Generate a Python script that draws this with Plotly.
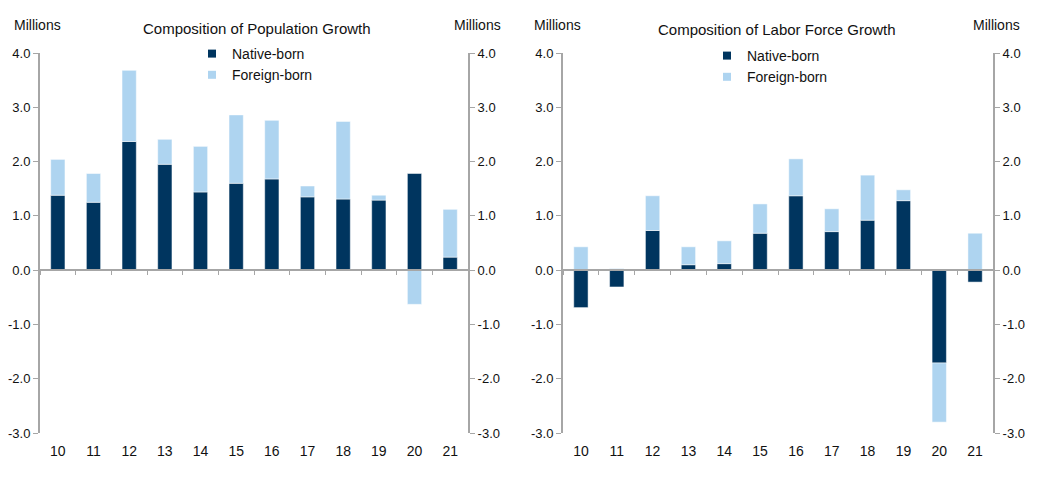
import plotly.graph_objects as go

# Data (millions)
years = ['10', '11', '12', '13', '14', '15', '16', '17', '18', '19', '20', '21']

pop_native = [1.38, 1.25, 2.37, 1.95, 1.44, 1.60, 1.68, 1.35, 1.31, 1.29, 1.78, 0.24]
pop_foreign = [0.66, 0.53, 1.31, 0.46, 0.84, 1.26, 1.08, 0.20, 1.43, 0.09, -0.63, 0.88]

lab_native = [-0.69, -0.31, 0.73, 0.10, 0.12, 0.68, 1.37, 0.71, 0.92, 1.28, -1.71, -0.22]
lab_foreign = [0.43, 0.03, 0.64, 0.33, 0.42, 0.54, 0.68, 0.42, 0.83, 0.20, -1.09, 0.68]

series_names = ['Native-born', 'Foreign-born']

NAVY = '#00355f'
LIGHT = '#aed4f0'
GRAY = '#a6a6a6'
TXT = '#111111'
FONT = 'Liberation Sans, Arial, sans-serif'

W, H = 1060, 485
OFF = 8  # page body margin shifts the figure


def px(v):
    return (v - OFF) / W


def py(v):
    return 1 - (v - OFF) / H


# plot areas in screen pixels (as measured on the reference)
left_px = (40, 468)
right_px = (563, 993)
top_px, bot_px = 53, 433
ymin, ymax = -3.0, 4.0

xd1 = [px(left_px[0]), px(left_px[1])]
xd2 = [px(right_px[0]), px(right_px[1])]
yd = [py(bot_px), py(top_px)]
zero_pos = yd[0] + (0 - ymin) / (ymax - ymin) * (yd[1] - yd[0])

fig = go.Figure()

panels = [('x', 'y', pop_native, pop_foreign, 'legend'),
          ('x2', 'y3', lab_native, lab_foreign, 'legend2')]
for xa, ya, nat, fgn, leg in panels:
    for vals, name, color in [(nat, series_names[0], NAVY), (fgn, series_names[1], LIGHT)]:
        fig.add_trace(go.Bar(x=years, y=vals, name=name, marker_color=color,
                             marker_line=dict(color='white', width=0.5),
                             xaxis=xa, yaxis=ya, showlegend=False))
    # small square legend entries
    for name, color in [(series_names[0], NAVY), (series_names[1], LIGHT)]:
        fig.add_trace(go.Scatter(x=[None], y=[None], mode='markers', name=name,
                                 marker=dict(symbol='square', size=8, color=color),
                                 xaxis=xa, yaxis=ya, legend=leg, legendgroup=leg + name))

tickvals = [-3, -2, -1, 0, 1, 2, 3, 4]
ticktext = ['%.1f' % v for v in tickvals]

yax_common = dict(range=[ymin, ymax], domain=yd, tickvals=tickvals, ticktext=ticktext,
                  showgrid=False, zeroline=False, showline=True, linecolor=GRAY,
                  linewidth=2, ticks='outside', ticklen=5, tickcolor=GRAY,
                  tickfont=dict(size=13, color=TXT), fixedrange=True, automargin=False)

xax_labels = dict(type='category', showgrid=False, zeroline=False, showline=False,
                  ticks='', tickfont=dict(size=14, color=TXT), anchor='free',
                  position=yd[0] - 8 / H, fixedrange=True, automargin=False)
xax_zero = dict(type='category', showgrid=False, zeroline=False, showline=True,
                linecolor=GRAY, linewidth=2, ticks='outside', ticklen=4,
                tickcolor=GRAY, tickson='boundaries', showticklabels=False,
                anchor='free', position=zero_pos, fixedrange=True, automargin=False)

leg_common = dict(xanchor='left', yanchor='top', bgcolor='rgba(0,0,0,0)',
                  font=dict(size=14, color=TXT), itemwidth=30,
                  tracegroupgap=2, traceorder='normal')

fig.update_layout(
    width=W, height=H,
    margin=dict(l=0, r=0, t=0, b=0, autoexpand=False),
    paper_bgcolor='white', plot_bgcolor='white',
    barmode='relative', bargap=0.6,
    font=dict(family=FONT, size=14, color=TXT),
    xaxis=dict(domain=xd1, **xax_labels),
    xaxis2=dict(domain=xd2, **xax_labels),
    xaxis3=dict(domain=xd1, overlaying='x', matches='x', **xax_zero),
    xaxis4=dict(domain=xd2, overlaying='x2', matches='x2', **xax_zero),
    yaxis=dict(side='left', anchor='x', **yax_common),
    yaxis2=dict(side='right', anchor='x', overlaying='y', **yax_common),
    yaxis3=dict(side='left', anchor='x2', **yax_common),
    yaxis4=dict(side='right', anchor='x2', overlaying='y3', **yax_common),
    legend=dict(x=px(192), y=py(38), **leg_common),
    legend2=dict(x=px(707), y=py(40), **leg_common),
    showlegend=True,
)

# invisible traces so the extra axes render
for xa, ya in [('x3', 'y'), ('x4', 'y3'), ('x', 'y2'), ('x2', 'y4')]:
    fig.add_trace(go.Bar(x=years, y=[None] * len(years), xaxis=xa, yaxis=ya,
                         showlegend=False, hoverinfo='skip'))

annots = [
    ('Composition of Population Growth', 257, 29, 15),
    ('Composition of Labor Force Growth', 777, 30, 15),
    ('Millions', 37, 25, 14),
    ('Millions', 477, 25, 14),
    ('Millions', 557, 25, 14),
    ('Millions', 996, 25, 14),
]
for text, x, y, size in annots:
    fig.add_annotation(text=text, x=px(x), y=py(y), xref='paper', yref='paper',
                       showarrow=False, xanchor='center', yanchor='middle',
                       font=dict(family=FONT, size=size, color=TXT))

fig.write_html('out.html')
